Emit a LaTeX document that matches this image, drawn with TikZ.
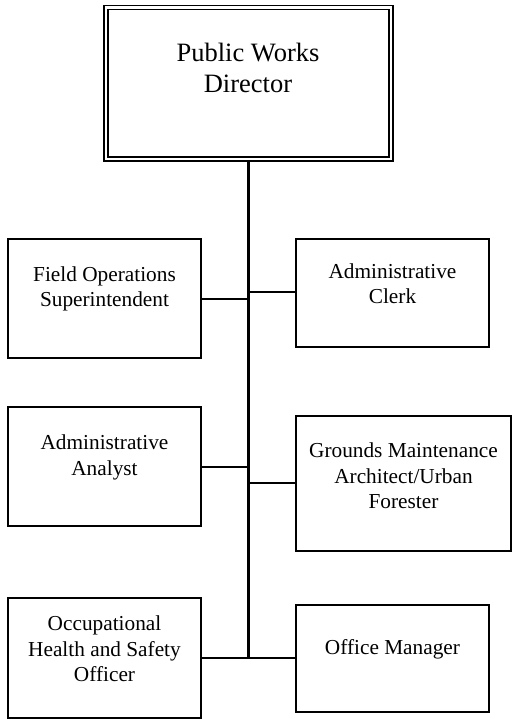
\documentclass[tikz,border=0pt]{standalone}
\usepackage{fontspec}
\setmainfont{Liberation Serif}
\begin{document}
\begin{tikzpicture}[x=1pt,y=-1pt,
  box/.style={draw,line width=1.6pt,rectangle,inner sep=0pt,outer sep=0pt,anchor=north west},
  lbl/.style={align=center,inner sep=0pt,font=\fontsize{21.3}{25.5}\selectfont},
  biglbl/.style={align=center,inner sep=0pt,font=\fontsize{26.5}{31}\selectfont},
  conn/.style={line width=1.8pt},
  trunkline/.style={line width=3pt}]
\useasboundingbox (0,0) rectangle (512,719);
% Director
\node[draw,double,line width=1.4pt,double distance=2.6pt,rectangle,inner sep=0pt,outer sep=0pt,anchor=north west,
  minimum width=285pt,minimum height=151.5pt] (dir) at (106,7.5) {};
\node[biglbl] (dirt) at (248,68) {Public Works\\Director};
% Boxes
\node[box,minimum width=193pt,minimum height=119pt] (fo) at (8,239) {};
\node[lbl] (fot) at (104.5,289) {Field Operations\\Superintendent};
\node[box,minimum width=193pt,minimum height=108pt] (clerk) at (296,239) {};
\node[lbl] (clerkt) at (392.5,283.5) {Administrative\\Clerk};
\node[box,minimum width=193pt,minimum height=119pt] (an) at (8,407) {};
\node[lbl] (ant) at (104.5,457.5) {Administrative\\Analyst};
\node[box,minimum width=215pt,minimum height=135pt] (gr) at (296,416) {};
\node[lbl] (grt) at (403.5,476) {Grounds Maintenance\\Architect/Urban\\Forester};
\node[box,minimum width=193pt,minimum height=120pt] (occ) at (8,598) {};
\node[lbl] (occt) at (104.5,649) {Occupational\\Health and Safety\\Officer};
\node[box,minimum width=193pt,minimum height=107pt] (off) at (296,605) {};
\node[lbl] (offt) at (392.5,649) {Office Manager};
% Trunk
\coordinate (tb) at (248,658);
\draw[trunkline] ([yshift=-1pt]dir.south -| tb) -- ([yshift=-0.9pt]tb);
% Branches
\draw[conn] (fo.east |- 0,299) -- (tb |- 0,299);
\draw[conn] (clerk.west |- 0,292) -- (tb |- 0,292);
\draw[conn] (an.east |- 0,467) -- (tb |- 0,467);
\draw[conn] (gr.west |- 0,483) -- (tb |- 0,483);
\draw[conn] (occ.east |- tb) -- (off.west |- tb);
\end{tikzpicture}
\end{document}
